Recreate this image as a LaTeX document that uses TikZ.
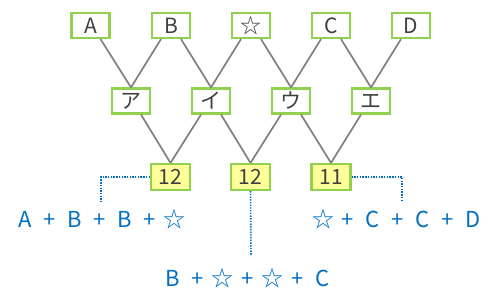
\documentclass[tikz,border=0pt]{standalone}
\usepackage{fontspec}
\setmainfont{Noto Sans CJK JP}
\newcommand{\mytok}[1]{\makebox[25pt]{#1}}
\definecolor{boxgreen}{HTML}{92D050}
\definecolor{boxyellow}{HTML}{FFFF99}
\definecolor{linegray}{HTML}{808080}
\definecolor{txtblue}{HTML}{0070C0}
\definecolor{txtdark}{HTML}{404040}
\begin{document}
\begin{tikzpicture}[x=1pt,y=-1pt,
  cell/.style={draw=boxgreen,line width=2.2pt,fill=white,minimum width=38pt,minimum height=25pt,inner sep=0pt,text=txtdark,text height=15pt,text depth=0pt,font=\fontsize{21pt}{22pt}\selectfont},
  sumcell/.style={cell,fill=boxyellow,minimum width=39pt,minimum height=26pt},
  link/.style={draw=linegray,line width=1.7pt},
  dots/.style={draw=txtblue,line width=1.6pt,dash pattern=on 1.4pt off 1.3pt},
  sumtext/.style={text=txtblue,inner sep=0pt,font=\fontsize{22pt}{24pt}\selectfont}]
\useasboundingbox (0,0) rectangle (495,300);
% top row
\node[cell] (A) at (90.5,25.5) {A};
\node[cell] (B) at (171,25.5) {B};
\node[cell] (S) at (251,25.5) {☆};
\node[cell] (C) at (331,25.5) {C};
\node[cell] (D) at (411,25.5) {D};
% middle row
\node[cell] (a) at (131,101) {ア};
\node[cell] (i) at (211,101) {イ};
\node[cell] (u) at (291,101) {ウ};
\node[cell] (e) at (371,101) {エ};
% bottom row
\node[sumcell] (s1) at (170.5,177) {12};
\node[sumcell] (s2) at (250.5,177) {12};
\node[sumcell] (s3) at (331,177) {11};
% links top -> middle
\draw[link] ([xshift=10pt]A.south) -- (a.north);
\draw[link] ([xshift=-10pt]B.south) -- (a.north);
\draw[link] ([xshift=10pt]B.south) -- (i.north);
\draw[link] ([xshift=-10pt]S.south) -- (i.north);
\draw[link] ([xshift=10pt]S.south) -- (u.north);
\draw[link] ([xshift=-10pt]C.south) -- (u.north);
\draw[link] ([xshift=10pt]C.south) -- (e.north);
\draw[link] ([xshift=-10pt]D.south) -- (e.north);
% links middle -> bottom
\draw[link] ([xshift=10pt]a.south) -- (s1.north);
\draw[link] ([xshift=-10pt]i.south) -- (s1.north);
\draw[link] ([xshift=10pt]i.south) -- (s2.north);
\draw[link] ([xshift=-10pt]u.south) -- (s2.north);
\draw[link] ([xshift=10pt]u.south) -- (s3.north);
\draw[link] ([xshift=-10pt]e.south) -- (s3.north);
% sum texts
\node[sumtext] (t1) at (100,219) {\mytok{A}\mytok{+}\mytok{B}\mytok{+}\mytok{B}\mytok{+}\mytok{☆}};
\node[sumtext] (t2) at (248,278) {\mytok{B}\mytok{+}\mytok{☆}\mytok{+}\mytok{☆}\mytok{+}\mytok{C}};
\node[sumtext] (t3) at (398,219) {\mytok{☆}\mytok{+}\mytok{C}\mytok{+}\mytok{C}\mytok{+}\mytok{D}};
\coordinate (e1) at (101,202);
\coordinate (e2) at (251,256);
\coordinate (e3) at (402,202);
\draw[dots] (s1.west) -| (e1);
\draw[dots] (s2.south) -- (e2);
\draw[dots] (s3.east) -| (e3);
\end{tikzpicture}
\end{document}
